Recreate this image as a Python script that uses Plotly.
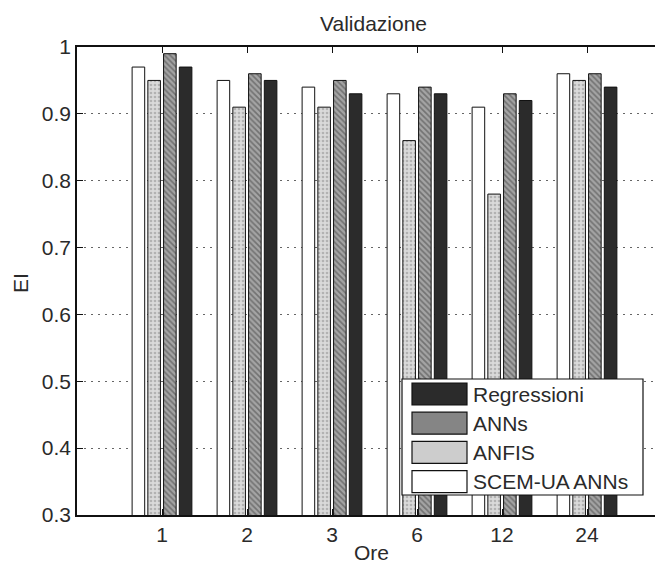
import plotly.graph_objects as go

# ---- data ----
categories = ["1", "2", "3", "6", "12", "24"]
series_names = ["SCEM-UA ANNs", "ANFIS", "ANNs", "Regressioni"]
scem_ua_anns = [0.97, 0.95, 0.94, 0.93, 0.91, 0.96]
anfis = [0.95, 0.91, 0.91, 0.86, 0.78, 0.95]
anns = [0.99, 0.96, 0.95, 0.94, 0.93, 0.96]
regressioni = [0.97, 0.95, 0.93, 0.93, 0.92, 0.94]
y_ticks = [0.3, 0.4, 0.5, 0.6, 0.7, 0.8, 0.9, 1.0]
y_ticklabels = ["0.3", "0.4", "0.5", "0.6", "0.7", "0.8", "0.9", "1"]

# ---- styles ----
FONT = "Liberation Sans, Arial, sans-serif"
FS = 21
TXT = "#2a2a2a"
colors = {
    "SCEM-UA ANNs": "#ffffff",
    "ANFIS": "#cfcfcf",
    "ANNs": "#8e8e8e",
    "Regressioni": "#2b2b2b",
}
patterns = {
    "SCEM-UA ANNs": None,
    "ANFIS": dict(shape=".", fgcolor="#8a8a8a", bgcolor="#dadada", size=4, solidity=0.35),
    "ANNs": dict(shape="\\", fgcolor="#3f3f3f", bgcolor="#a4a4a4", size=4, solidity=0.4),
    "Regressioni": None,
}

xpos = list(range(1, len(categories) + 1))
values = {
    "SCEM-UA ANNs": scem_ua_anns,
    "ANFIS": anfis,
    "ANNs": anns,
    "Regressioni": regressioni,
}

fig = go.Figure()
for name in series_names:
    marker = dict(color=colors[name], line=dict(color="#111111", width=1))
    if patterns[name]:
        marker["pattern"] = patterns[name]
    fig.add_trace(go.Bar(x=xpos, y=values[name], name=name, marker=marker, showlegend=False))

# page has an 8px body margin; figure sized to fit the window
OFF = 8
W, H = 663 - OFF, 566 - OFF
L = 77 - OFF
T = 47 - OFF
B = H - (515 - OFF)
R = 0
plot_w = W - L - R
plot_h = H - T - B
px_per_cat = 85.0
x_max = plot_w / px_per_cat

fig.update_layout(
    width=W, height=H,
    margin=dict(l=L, r=R, t=T, b=B, autoexpand=False),
    paper_bgcolor="white", plot_bgcolor="white",
    barmode="group", bargap=0.26, bargroupgap=0.2,
    font=dict(family=FONT, size=FS, color=TXT),
    showlegend=False,
)
fig.update_xaxes(
    range=[0, x_max], tickmode="array", tickvals=xpos, ticktext=categories,
    showline=True, linecolor="#111111", linewidth=1.5, mirror="ticks",
    ticks="inside", ticklen=6, tickcolor="#111111", showgrid=False, zeroline=False,
    tickfont=dict(family=FONT, size=FS, color=TXT),
)
fig.update_yaxes(
    range=[0.3, 1.0], tickmode="array", tickvals=y_ticks, ticktext=y_ticklabels,
    showline=True, linecolor="#111111", linewidth=1.5, mirror=True,
    ticks="inside", ticklen=6, tickcolor="#111111",
    showgrid=True, gridcolor="#666666", griddash="1.5px,5.5px", gridwidth=1.2, zeroline=False,
    tickfont=dict(family=FONT, size=FS, color=TXT),
)

# helpers: screenshot pixel -> paper / data coords
def xp(px):
    return (px - OFF - L) / plot_w

def yp(py):
    return (H - B - (py - OFF)) / plot_h

def xd(px):
    return (px - OFF - L) / px_per_cat

def yd(py):
    return 0.3 + yp(py) * 0.7

# titles
fig.add_annotation(text="Validazione", xref="paper", yref="paper", x=xp(373), y=yp(24),
                   showarrow=False, font=dict(family=FONT, size=FS, color=TXT),
                   xanchor="center", yanchor="middle")
fig.add_annotation(text="Ore", xref="paper", yref="paper", x=xp(371), y=yp(552),
                   showarrow=False, font=dict(family=FONT, size=FS, color=TXT),
                   xanchor="center", yanchor="middle")
fig.add_annotation(text="EI", xref="paper", yref="paper", x=xp(20), y=yp(283),
                   showarrow=False, textangle=-90, font=dict(family=FONT, size=FS, color=TXT),
                   xanchor="center", yanchor="middle")

# custom MATLAB-like legend box
fig.add_shape(type="rect", x0=xd(402), x1=xd(643), y0=yd(495), y1=yd(379),
              fillcolor="white", line=dict(color="#111111", width=1.2), layer="above")
legend_order = ["Regressioni", "ANNs", "ANFIS", "SCEM-UA ANNs"]
swatch_fill = {"SCEM-UA ANNs": "#ffffff", "ANFIS": "#cdcdcd", "ANNs": "#858585", "Regressioni": "#2b2b2b"}
for i, name in enumerate(legend_order):
    cy = 394 + i * 29.2
    fig.add_shape(type="rect", x0=xd(412), x1=xd(467), y0=yd(cy + 11), y1=yd(cy - 11),
                  fillcolor=swatch_fill[name], line=dict(color="#111111", width=1.2), layer="above")
    fig.add_annotation(text=name, x=xd(471), y=yd(cy), xref="x", yref="y", showarrow=False,
                       xanchor="left", yanchor="middle",
                       font=dict(family=FONT, size=FS, color=TXT))

fig.write_html("out.html")
